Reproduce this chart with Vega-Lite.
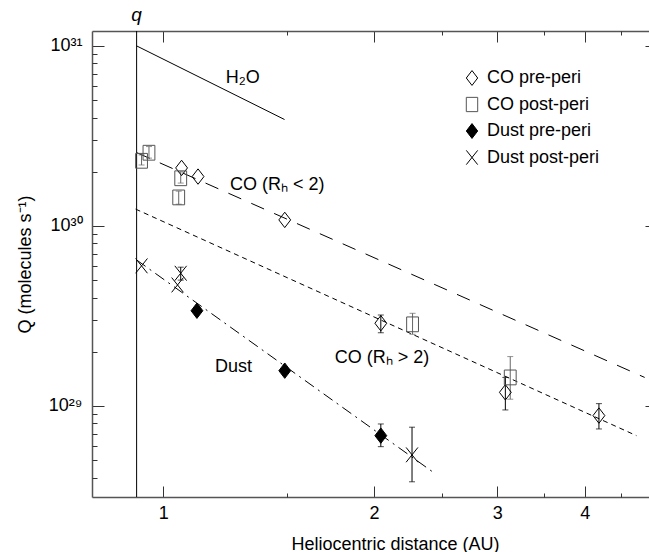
{
  "$schema": "https://vega.github.io/schema/vega-lite/v6.json",
  "width": 557,
  "height": 466,
  "autosize": {"type": "none"},
  "padding": {"left": 92, "top": 31, "right": 0, "bottom": 55},
  "background": "white",
  "config": {
    "font": "Liberation Sans",
    "view": {"stroke": null},
    "axis": {
      "grid": false,
      "domainColor": "#555",
      "domainWidth": 1.5,
      "tickColor": "#333",
      "tickWidth": 1,
      "labelFontSize": 18,
      "labelColor": "black",
      "labelFont": "Liberation Sans",
      "titleFont": "Liberation Sans",
      "titleFontSize": 18,
      "titleFontWeight": "normal",
      "titleColor": "black",
      "labelOverlap": false,
      "labelFlush": false,
      "labelBound": false
    },
    "legend": {
      "labelFont": "Liberation Sans",
      "labelFontSize": 18,
      "labelColor": "black"
    }
  },
  "datasets": {
    "lines": [
      {"line": "H2O", "r": 0.916, "Q": 1.0e31},
      {"line": "H2O", "r": 1.49, "Q": 3.9e30},
      {"line": "COlt2", "r": 0.917, "Q": 2.55e30},
      {"line": "COlt2", "r": 4.87, "Q": 1.44e29},
      {"line": "COgt2", "r": 0.913, "Q": 1.24e30},
      {"line": "COgt2", "r": 4.74, "Q": 6.84e28},
      {"line": "Dust", "r": 0.916, "Q": 6.47e29},
      {"line": "Dust", "r": 2.44, "Q": 4.23e28}
    ],
    "points": [
      {"series": "CO pre-peri", "r": 1.062, "Q": 2.10e30},
      {"series": "CO pre-peri", "r": 1.121, "Q": 1.88e30},
      {"series": "CO pre-peri", "r": 1.491, "Q": 1.08e30},
      {"series": "CO pre-peri", "r": 2.045, "Q": 2.88e29, "lo": 2.55e29, "hi": 3.2e29},
      {"series": "CO pre-peri", "r": 3.08, "Q": 1.19e29, "lo": 9.5e28, "hi": 1.44e29},
      {"series": "CO pre-peri", "r": 4.19, "Q": 8.84e28, "lo": 7.45e28, "hi": 1.03e29},
      {"series": "CO post-peri", "r": 0.931, "Q": 2.30e30, "lo": 2.18e30, "hi": 2.48e30},
      {"series": "CO post-peri", "r": 0.954, "Q": 2.55e30, "lo": 2.38e30, "hi": 2.76e30},
      {"series": "CO post-peri", "r": 1.059, "Q": 1.84e30, "lo": 1.73e30, "hi": 2.0e30},
      {"series": "CO post-peri", "r": 1.052, "Q": 1.44e30, "lo": 1.32e30, "hi": 1.56e30},
      {"series": "CO post-peri", "r": 2.27, "Q": 2.84e29, "lo": 2.5e29, "hi": 3.27e29},
      {"series": "CO post-peri", "r": 3.13, "Q": 1.44e29, "lo": 1.09e29, "hi": 1.88e29},
      {"series": "Dust pre-peri", "r": 1.117, "Q": 3.38e29},
      {"series": "Dust pre-peri", "r": 1.491, "Q": 1.57e29},
      {"series": "Dust pre-peri", "r": 2.045, "Q": 6.84e28, "lo": 5.94e28, "hi": 7.94e28},
      {"series": "Dust post-peri", "r": 0.931, "Q": 6.0e29},
      {"series": "Dust post-peri", "r": 1.059, "Q": 5.46e29, "lo": 5.0e29, "hi": 5.9e29},
      {"series": "Dust post-peri", "r": 1.048, "Q": 4.7e29},
      {"series": "Dust post-peri", "r": 2.266, "Q": 5.35e28, "lo": 3.79e28, "hi": 7.62e28}
    ],
    "labels": [
      {"text": "H₂O", "r": 1.228, "Q": 6.62e30},
      {"text": "CO (Rₕ < 2)", "r": 1.245, "Q": 1.69e30},
      {"text": "CO (Rₕ > 2)", "r": 1.758, "Q": 1.85e29},
      {"text": "Dust", "r": 1.185, "Q": 1.65e29}
    ],
    "qline": [{"text": "q", "r": 0.916, "Q": 1.49e31}]
  },
  "resolve": {"axis": {"x": "independent", "y": "independent"}},
  "layer": [
    {
      "data": {"name": "lines"},
      "transform": [{"filter": "datum.line == 'H2O'"}],
      "mark": {"type": "line", "color": "black", "strokeWidth": 1},
      "encoding": {
        "x": {
          "field": "r", "type": "quantitative",
          "scale": {"type": "log", "domain": [0.791, 4.94], "nice": false},
          "axis": {
            "orient": "bottom",
            "values": [1, 2, 3, 4],
            "tickSize": -11,
            "format": "d",
            "labelPadding": 18,
            "title": "Heliocentric distance (AU)",
            "titleX": 303,
            "titleY": 52,
            "titleAlign": "center",
            "titleBaseline": "alphabetic"
          }
        },
        "y": {
          "field": "Q", "type": "quantitative",
          "scale": {"type": "log", "domain": [3.12e28, 1.21e31], "nice": false},
          "axis": {
            "orient": "left",
            "values": [1e29, 1e30, 1e31],
            "tickSize": -12,
            "labelExpr": "datum.value == 1e31 ? '10³¹' : datum.value == 1e30 ? '10³⁰' : '10²⁹'",
            "labelPadding": 22,
            "title": "Q (molecules s⁻¹)",
            "titlePadding": 14
          }
        }
      }
    },
    {
      "data": {"name": "lines"},
      "transform": [{"filter": "datum.line == 'COlt2'"}],
      "mark": {"type": "line", "color": "black", "strokeWidth": 1, "strokeDash": [14, 11]},
      "encoding": {
        "x": {
          "field": "r", "type": "quantitative",
          "scale": {"type": "log", "domain": [0.791, 4.94], "nice": false},
          "axis": {
            "orient": "top",
            "values": [1, 2, 3, 4],
            "tickSize": -11,
            "labels": false,
            "title": null
          }
        },
        "y": {
          "field": "Q", "type": "quantitative",
          "scale": {"type": "log", "domain": [3.12e28, 1.21e31], "nice": false},
          "axis": {
            "orient": "right",
            "offset": 8,
            "domain": false,
            "values": [1e29, 1e30, 1e31],
            "tickSize": -12,
            "labels": false,
            "title": null
          }
        }
      }
    },
    {
      "data": {"name": "lines"},
      "transform": [{"filter": "datum.line == 'COgt2'"}],
      "mark": {"type": "line", "color": "black", "strokeWidth": 1, "strokeDash": [5, 4]},
      "encoding": {
        "x": {
          "field": "r", "type": "quantitative",
          "scale": {"type": "log", "domain": [0.791, 4.94], "nice": false},
          "axis": {
            "orient": "bottom",
            "domain": false,
            "values": [1.5, 2.5, 3.5, 4.5],
            "tickSize": -4,
            "labels": false,
            "title": null
          }
        },
        "y": {
          "field": "Q", "type": "quantitative",
          "scale": {"type": "log", "domain": [3.12e28, 1.21e31], "nice": false},
          "axis": {
            "orient": "left",
            "domain": false,
            "values": [4e28, 5e28, 6e28, 7e28, 8e28, 9e28, 2e29, 3e29, 4e29, 5e29, 6e29, 7e29, 8e29, 9e29, 2e30, 3e30, 4e30, 5e30, 6e30, 7e30, 8e30, 9e30],
            "tickSize": -5,
            "labels": false,
            "title": null
          }
        }
      }
    },
    {
      "data": {"name": "lines"},
      "transform": [{"filter": "datum.line == 'Dust'"}],
      "mark": {"type": "line", "color": "black", "strokeWidth": 1, "strokeDash": [11, 5, 2, 5]},
      "encoding": {
        "x": {
          "field": "r", "type": "quantitative",
          "scale": {"type": "log", "domain": [0.791, 4.94], "nice": false},
          "axis": {
            "orient": "top",
            "domain": false,
            "values": [1.5, 2.5, 3.5, 4.5],
            "tickSize": -4,
            "labels": false,
            "title": null
          }
        },
        "y": {"field": "Q", "type": "quantitative", "scale": {"type": "log", "domain": [3.12e28, 1.21e31], "nice": false}, "axis": null}
      }
    },
    {
      "data": {"name": "qline"},
      "mark": {"type": "rule", "color": "black", "strokeWidth": 1},
      "encoding": {
        "x": {"field": "r", "type": "quantitative", "scale": {"type": "log", "domain": [0.791, 4.94], "nice": false}, "axis": null}
      }
    },
    {
      "data": {"name": "points"},
      "transform": [{"filter": "isValid(datum.lo)"}],
      "mark": {"type": "rule", "strokeWidth": 1},
      "encoding": {
        "x": {"field": "r", "type": "quantitative", "scale": {"type": "log", "domain": [0.791, 4.94], "nice": false}, "axis": null},
        "y": {"field": "lo", "type": "quantitative", "scale": {"type": "log", "domain": [3.12e28, 1.21e31], "nice": false}, "axis": null},
        "y2": {"field": "hi"},
        "color": {"condition": {"test": "datum.series == 'CO post-peri'", "value": "#666"}, "value": "black"}
      }
    },
    {
      "data": {"name": "points"},
      "transform": [{"filter": "isValid(datum.lo)"}],
      "mark": {"type": "tick", "orient": "horizontal", "size": 6, "thickness": 1},
      "encoding": {
        "x": {"field": "r", "type": "quantitative", "scale": {"type": "log", "domain": [0.791, 4.94], "nice": false}, "axis": null},
        "y": {"field": "lo", "type": "quantitative", "scale": {"type": "log", "domain": [3.12e28, 1.21e31], "nice": false}, "axis": null},
        "color": {"condition": {"test": "datum.series == 'CO post-peri'", "value": "#666"}, "value": "black"}
      }
    },
    {
      "data": {"name": "points"},
      "transform": [{"filter": "isValid(datum.hi)"}],
      "mark": {"type": "tick", "orient": "horizontal", "size": 6, "thickness": 1},
      "encoding": {
        "x": {"field": "r", "type": "quantitative", "scale": {"type": "log", "domain": [0.791, 4.94], "nice": false}, "axis": null},
        "y": {"field": "hi", "type": "quantitative", "scale": {"type": "log", "domain": [3.12e28, 1.21e31], "nice": false}, "axis": null},
        "color": {"condition": {"test": "datum.series == 'CO post-peri'", "value": "#666"}, "value": "black"}
      }
    },
    {
      "data": {"name": "points"},
      "mark": {"type": "point", "strokeWidth": 1, "size": 140, "opacity": 1},
      "encoding": {
        "x": {"field": "r", "type": "quantitative", "scale": {"type": "log", "domain": [0.791, 4.94], "nice": false}, "axis": null},
        "y": {"field": "Q", "type": "quantitative", "scale": {"type": "log", "domain": [3.12e28, 1.21e31], "nice": false}, "axis": null},
        "shape": {
          "field": "series", "type": "nominal",
          "scale": {
            "domain": ["CO pre-peri", "CO post-peri", "Dust pre-peri", "Dust post-peri"],
            "range": ["M0,-1.3L1,0L0,1.3L-1,0Z", "M-1,-1.25L1,-1.25L1,1.25L-1,1.25Z", "M0,-1.3L1,0L0,1.3L-1,0Z", "M-1,-1.25L1,1.25M-1,1.25L1,-1.25"]
          },
          "legend": {
            "title": null,
            "orient": "none",
            "legendX": 371,
            "legendY": 38,
            "padding": 0,
            "symbolSize": 130,
            "symbolStrokeWidth": 1,
            "labelOffset": 6,
            "rowPadding": 6.5
          }
        },
        "fill": {
          "field": "series", "type": "nominal",
          "scale": {
            "domain": ["CO pre-peri", "CO post-peri", "Dust pre-peri", "Dust post-peri"],
            "range": ["transparent", "transparent", "black", "transparent"]
          },
          "legend": {
            "title": null,
            "orient": "none",
            "legendX": 371,
            "legendY": 38,
            "padding": 0,
            "symbolSize": 130,
            "symbolStrokeWidth": 1,
            "labelOffset": 6,
            "rowPadding": 6.5
          }
        },
        "stroke": {
          "field": "series", "type": "nominal",
          "scale": {
            "domain": ["CO pre-peri", "CO post-peri", "Dust pre-peri", "Dust post-peri"],
            "range": ["black", "#555", "black", "black"]
          },
          "legend": {
            "title": null,
            "orient": "none",
            "legendX": 371,
            "legendY": 38,
            "padding": 0,
            "symbolSize": 130,
            "symbolStrokeWidth": 1,
            "labelOffset": 6,
            "rowPadding": 6.5
          }
        }
      }
    },
    {
      "data": {"name": "labels"},
      "mark": {"type": "text", "align": "left", "baseline": "middle", "fontSize": 18, "font": "Liberation Sans", "color": "black"},
      "encoding": {
        "x": {"field": "r", "type": "quantitative", "scale": {"type": "log", "domain": [0.791, 4.94], "nice": false}, "axis": null},
        "y": {"field": "Q", "type": "quantitative", "scale": {"type": "log", "domain": [3.12e28, 1.21e31], "nice": false}, "axis": null},
        "text": {"field": "text"}
      }
    },
    {
      "data": {"name": "qline"},
      "mark": {"type": "text", "align": "center", "baseline": "middle", "fontSize": 19, "fontStyle": "italic", "font": "Liberation Sans", "color": "black"},
      "encoding": {
        "x": {"field": "r", "type": "quantitative", "scale": {"type": "log", "domain": [0.791, 4.94], "nice": false}, "axis": null},
        "y": {"field": "Q", "type": "quantitative", "scale": {"type": "log", "domain": [3.12e28, 1.21e31], "nice": false}, "axis": null},
        "text": {"field": "text"}
      }
    }
  ]
}
